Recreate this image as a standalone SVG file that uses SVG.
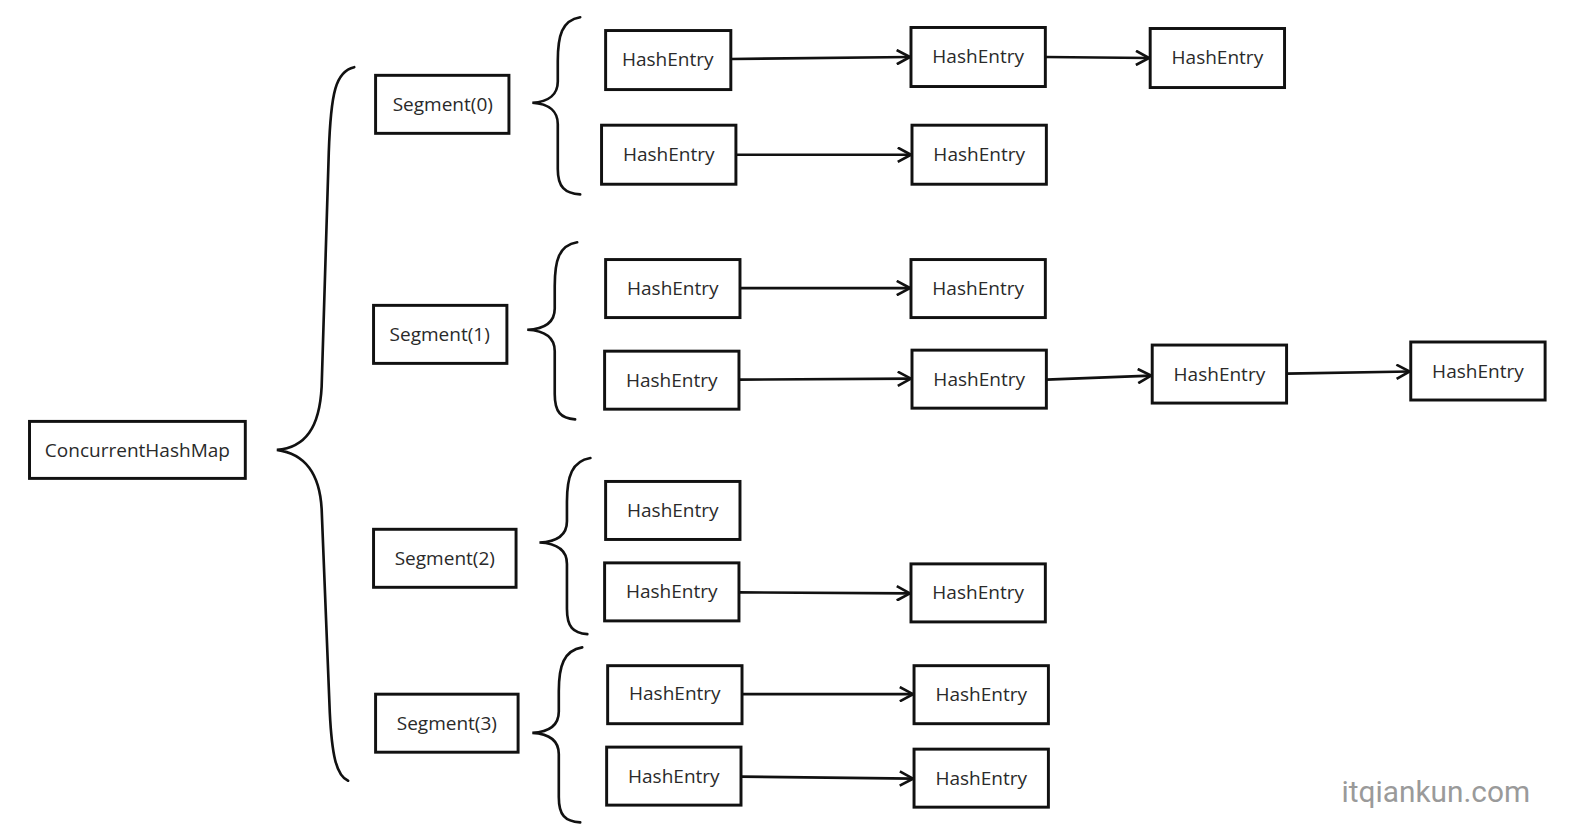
<svg xmlns="http://www.w3.org/2000/svg" width="1596" height="834" viewBox="0 0 1596 834">
<style>
.box{fill:#fff;stroke:#111;stroke-width:2.9}
.t{font-family:"Open Sans","DejaVu Sans",sans-serif;font-size:18.7px;fill:#2a2a2a;text-anchor:middle;dominant-baseline:central}
.br{fill:none;stroke:#111;stroke-width:2.6;stroke-linecap:round}
.c{fill:none;stroke:#111;stroke-width:2.6;marker-end:url(#ah)}
.wm{font-family:Roboto,"Liberation Sans",sans-serif;font-size:29.3px;fill:#9a9a9a}
</style>
<defs>
<marker id="ah" viewBox="0 0 16 16" refX="15" refY="8" markerWidth="16" markerHeight="16" markerUnits="userSpaceOnUse" orient="auto">
<path d="M2,1 L15,8 L2,15" fill="none" stroke="#111" stroke-width="2.6"/>
</marker>
</defs>
<rect width="1596" height="834" fill="#fff"/>
<g transform="scale(1.01786)">
<g id="braces">
<path class="br" d="M348,66 C330,70 325,90 323,150 L316,380 C314,420 300,440 272,442 C300,446 314,465 316,500 L324,700 C326,740 330,762 342,767"/>
<path class="br" d="M570,17 C552,20 548,35 548,60 L548,80 C548,92 540,100 523,101 C540,102 548,110 548,122 L548,166 C548,184 555,190 570,191"/>
<path class="br" d="M567,238 C549,241 545,256 545,281 L545,303 C545,315 537,323 518,324 C537,325 545,333 545,345 L545,387 C545,405 551,411 565,412"/>
<path class="br" d="M580,450 C562,453 557,468 557,493 L557,512 C557,524 549,532 530,533 C549,534 557,542 557,554 L557,598 C557,616 563,622 577,623"/>
<path class="br" d="M572,636 C554,639 549,654 549,679 L549,699 C549,711 541,719 523,720 C541,721 549,729 549,741 L549,783 C549,801 555,807 570,808"/>
</g>

<g id="chm"><rect class="box" x="29" y="414" width="212" height="56"/><text class="t" x="135" y="442">ConcurrentHashMap</text></g>

<g id="seg0"><rect class="box" x="369" y="74" width="131" height="57"/><text class="t" x="435" y="102">Segment(0)</text></g>
<g id="seg1"><rect class="box" x="367" y="300" width="131" height="57"/><text class="t" x="432" y="328">Segment(1)</text></g>
<g id="seg2"><rect class="box" x="367" y="520" width="140" height="57"/><text class="t" x="437" y="548">Segment(2)</text></g>
<g id="seg3"><rect class="box" x="369" y="682" width="140" height="57"/><text class="t" x="439" y="710">Segment(3)</text></g>

<g id="e0a1"><rect class="box" x="595" y="30" width="123" height="58"/><text class="t" x="656" y="58">HashEntry</text></g>
<g id="e0a2"><rect class="box" x="895" y="27" width="132" height="58"/><text class="t" x="961" y="55">HashEntry</text></g>
<g id="e0a3"><rect class="box" x="1130" y="28" width="132" height="58"/><text class="t" x="1196" y="56">HashEntry</text></g>
<g id="e0b1"><rect class="box" x="591" y="123" width="132" height="58"/><text class="t" x="657" y="151">HashEntry</text></g>
<g id="e0b2"><rect class="box" x="896" y="123" width="132" height="58"/><text class="t" x="962" y="151">HashEntry</text></g>

<g id="e1a1"><rect class="box" x="595" y="255" width="132" height="57"/><text class="t" x="661" y="283">HashEntry</text></g>
<g id="e1a2"><rect class="box" x="895" y="255" width="132" height="57"/><text class="t" x="961" y="283">HashEntry</text></g>
<g id="e1b1"><rect class="box" x="594" y="345" width="132" height="57"/><text class="t" x="660" y="373">HashEntry</text></g>
<g id="e1b2"><rect class="box" x="896" y="344" width="132" height="57"/><text class="t" x="962" y="372">HashEntry</text></g>
<g id="e1b3"><rect class="box" x="1132" y="339" width="132" height="57"/><text class="t" x="1198" y="367">HashEntry</text></g>
<g id="e1b4"><rect class="box" x="1386" y="336" width="132" height="57"/><text class="t" x="1452" y="364">HashEntry</text></g>

<g id="e2a1"><rect class="box" x="595" y="473" width="132" height="57"/><text class="t" x="661" y="501">HashEntry</text></g>
<g id="e2b1"><rect class="box" x="594" y="553" width="132" height="57"/><text class="t" x="660" y="581">HashEntry</text></g>
<g id="e2b2"><rect class="box" x="895" y="554" width="132" height="57"/><text class="t" x="961" y="582">HashEntry</text></g>

<g id="e3a1"><rect class="box" x="597" y="654" width="132" height="57"/><text class="t" x="663" y="681">HashEntry</text></g>
<g id="e3a2"><rect class="box" x="898" y="654" width="132" height="57"/><text class="t" x="964" y="682">HashEntry</text></g>
<g id="e3b1"><rect class="box" x="596" y="734" width="132" height="57"/><text class="t" x="662" y="762">HashEntry</text></g>
<g id="e3b2"><rect class="box" x="898" y="736" width="132" height="57"/><text class="t" x="964" y="764">HashEntry</text></g>

<g id="connectors">
<line class="c" x1="718" y1="58" x2="894" y2="56"/>
<line class="c" x1="1027" y1="56" x2="1129" y2="57"/>
<line class="c" x1="723" y1="152" x2="895" y2="152"/>
<line class="c" x1="727" y1="283" x2="894" y2="283"/>
<line class="c" x1="726" y1="373" x2="895" y2="372"/>
<line class="c" x1="1028" y1="373" x2="1131" y2="369"/>
<line class="c" x1="1264" y1="367" x2="1385" y2="365"/>
<line class="c" x1="726" y1="582" x2="894" y2="583"/>
<line class="c" x1="729" y1="682" x2="897" y2="682"/>
<line class="c" x1="728" y1="763" x2="897" y2="765"/>
</g>

<text class="wm" x="1318" y="788">itqiankun.com</text>
</g>
</svg>
